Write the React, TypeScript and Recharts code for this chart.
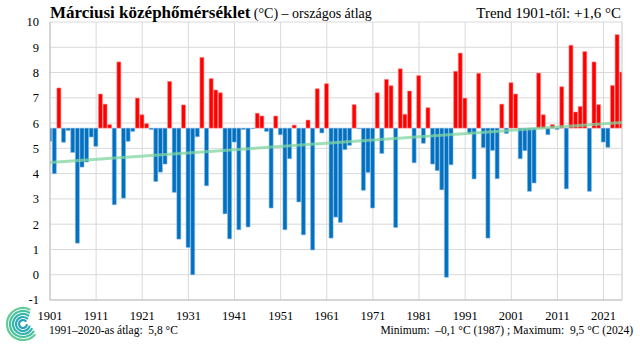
import {
  ComposedChart,
  Bar,
  Line,
  XAxis,
  YAxis,
  CartesianGrid,
  ReferenceLine,
  Cell,
} from "recharts";

// March mean temperature, national average (°C), one value per year from 1901
const FIRST_YEAR = 1901;
const MARCH_TEMPS = [
  5.28, 4.0, 7.39, 5.24, 5.71, 4.84, 1.25, 4.26, 4.46, 5.45, // 1901-1910
  5.08, 7.15, 6.75, 5.94, 2.77, 8.42, 3.03, 5.28, 5.67, 6.99, // 1911-1920
  6.33, 5.98, 5.75, 3.69, 4.06, 4.38, 7.65, 3.26, 1.41, 6.72, // 1921-1930
  1.08, 0.0, 5.46, 8.6, 3.52, 7.76, 7.31, 7.2, 2.41, 1.42, // 1931-1940
  5.25, 1.78, 5.75, 1.89, 5.78, 6.39, 6.28, 5.67, 2.64, 6.28, // 1941-1950
  5.54, 1.78, 4.59, 5.92, 2.88, 1.58, 6.12, 0.98, 7.36, 5.61, // 1951-1960
  7.56, 1.45, 2.28, 2.07, 4.95, 5.12, 6.73, 5.78, 3.34, 4.05, // 1961-1970
  2.64, 7.2, 4.8, 7.73, 7.48, 1.87, 8.15, 6.35, 7.27, 4.43, // 1971-1980
  7.88, 5.2, 6.61, 4.38, 4.12, 3.36, -0.1, 4.35, 8.05, 8.77, // 1981-1990
  6.99, 5.59, 3.79, 7.97, 5.03, 1.45, 4.92, 3.8, 6.75, 5.59, // 1991-2000
  7.6, 7.15, 4.59, 4.91, 3.3, 3.63, 7.98, 6.33, 5.54, 5.94, // 2001-2010
  5.75, 7.44, 3.4, 9.08, 6.44, 6.66, 8.83, 3.3, 8.42, 6.73, // 2011-2020
  5.25, 5.04, 7.49, 9.5, 8.02, // 2021-2025
];

const YEAR_TICKS = [1901, 1911, 1921, 1931, 1941, 1951, 1961, 1971, 1981, 1991, 2001, 2011, 2021];
const TEMP_TICKS = [-1, 0, 1, 2, 3, 4, 5, 6, 7, 8, 9, 10];

// 1991-2020 average, the bars start from it
const BASELINE = 5.8;
// linear trend at the first and the last year
const TREND_START = 4.44;
const TREND_END = 6.02;

const SERIF = '"Liberation Serif", "Times New Roman", serif';

const chartData = MARCH_TEMPS.map((t, i) => ({
  year: FIRST_YEAR + i,
  temp: t,
  range: [Math.min(t, BASELINE), Math.max(t, BASELINE)],
  trend: i === 0 ? TREND_START : i === MARCH_TEMPS.length - 1 ? TREND_END : null,
}));

const lastYear = FIRST_YEAR + MARCH_TEMPS.length - 1;

function Logo() {
  const cx = 23;
  const cy = 324;
  const rings = [
    { r: 4, color: "#2a9fbc" },
    { r: 7, color: "#2eabb4" },
    { r: 10, color: "#38b6aa" },
    { r: 13, color: "#48c1a0" },
    { r: 16, color: "#62cb97" },
  ];
  return (
    <g>
      {rings.map(({ r, color }, k) => {
        const a0 = ((-50 - k * 4) * Math.PI) / 180;
        const a1 = ((15 + k * 7) * Math.PI) / 180;
        const x0 = cx + r * Math.cos(a0);
        const y0 = cy + r * Math.sin(a0);
        const x1 = cx + r * Math.cos(a1);
        const y1 = cy + r * Math.sin(a1);
        return (
          <path
            key={k}
            d={`M${x0},${y0} A${r},${r} 0 1 0 ${x1},${y1}`}
            fill="none"
            stroke={color}
            strokeWidth={2.2}
            strokeLinecap="round"
          />
        );
      })}
    </g>
  );
}

export default function App() {
  return (
    <div style={{ position: "absolute", left: 0, top: 0, width: 640, height: 345, background: "#fff" }}>
      <ComposedChart
        width={640}
        height={345}
        data={chartData}
        margin={{ top: 22, right: 18, bottom: 0, left: 8 }}
      >
        <CartesianGrid stroke="#d9d9d9" />
        <XAxis
          dataKey="year"
          type="number"
          domain={[FIRST_YEAR, lastYear]}
          ticks={YEAR_TICKS}
          allowDataOverflow
          height={45}
          tickLine={false}
          tickSize={8}
          tickMargin={3.5}
          stroke="#bfbfbf"
          tick={{ fontSize: 12.5, fill: "#000", fontFamily: SERIF }}
        />
        <YAxis
          type="number"
          domain={[-1, 10]}
          ticks={TEMP_TICKS}
          interval={0}
          width={42}
          tickLine={false}
          tickSize={8}
          tickMargin={3}
          stroke="#bfbfbf"
          tick={{ fontSize: 12.5, fill: "#000", fontFamily: SERIF }}
        />
        <ReferenceLine x={lastYear} stroke="#d9d9d9" />
        <Bar dataKey="range" barSize={4} isAnimationActive={false}>
          {chartData.map((d, i) => (
            <Cell
              key={`bar-${i}`}
              fill={d.temp > BASELINE ? "#ff0000" : "#0070c0"}
              stroke={d.temp > BASELINE ? "#ff8a8a" : "#7fb3e0"}
              strokeWidth={0.6}
            />
          ))}
        </Bar>
        <Line
          dataKey="trend"
          connectNulls
          dot={false}
          stroke="#7fd6a2"
          strokeOpacity={0.75}
          strokeWidth={3}
          isAnimationActive={false}
        />
      </ComposedChart>
      <svg
        width={640}
        height={345}
        style={{ position: "absolute", left: 0, top: 0, pointerEvents: "none" }}
      >
        <text x={50} y={17.5} fontFamily={SERIF} fill="#000" style={{ whiteSpace: "pre" }}>
          <tspan fontWeight="bold" fontSize={17}>
            Márciusi középhőmérséklet
          </tspan>
          <tspan fontSize={14}> (°C) – országos átlag</tspan>
        </text>
        <text x={621} y={17.5} textAnchor="end" fontFamily={SERIF} fontSize={15} fill="#000">
          Trend 1901-től: +1,6 °C
        </text>
        <text x={49} y={334} fontFamily={SERIF} fontSize={11.5} fill="#000" style={{ whiteSpace: "pre" }}>
          1991–2020-as átlag:  5,8 °C
        </text>
        <text
          x={633}
          y={334}
          textAnchor="end"
          fontFamily={SERIF}
          fontSize={11.5}
          fill="#000"
          style={{ whiteSpace: "pre" }}
        >
          Minimum:  –0,1 °C (1987) ; Maximum:  9,5 °C (2024)
        </text>
        <Logo />
      </svg>
    </div>
  );
}
